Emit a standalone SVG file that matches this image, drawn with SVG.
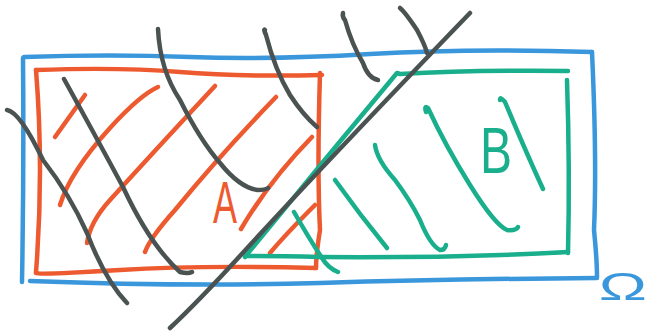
<svg xmlns="http://www.w3.org/2000/svg" width="649" height="333" viewBox="0 0 649 333">
<style>
.s{fill:none;stroke-width:4.5;stroke-linecap:round;stroke-linejoin:round}
.b{stroke:#3a97dc}.o{stroke:#ee5a2f}.g{stroke:#1aaf8c}.k{stroke:#4b5352}
.t{font-family:"Liberation Sans",sans-serif;font-weight:normal;text-anchor:middle}
</style>
<rect width="649" height="333" fill="#fff"/>
<g id="omega">
<path class="s b" d="M23,58 Q24,170 22,282"/>
<path class="s b" d="M24,57 Q110,54 190,57 T370,54 T592,52"/>
<path class="s b" d="M592,52 Q597,160 594,230 Q597,260 597,277"/>
<path class="s b" d="M597,278 Q450,279 320,283 T30,281"/>
<text class="t" transform="translate(623,300) scale(1.7,1)" font-size="38" fill="#3a97dc">Ω</text>
</g>
<g id="setA">
<path class="s o" d="M36,70 Q120,67 180,72 T322,75"/>
<path class="s o" d="M320,73 Q317,170 320,230 Q316,255 316,268"/>
<path class="s o" d="M316,268 Q200,265 120,270 T36,273"/>
<path class="s o" d="M36,272 Q44,170 36,70"/>
<path class="s o" d="M85,95 L55,137"/>
<path class="s o" d="M158,87 Q140,95 110,128 Q70,172 60,205"/>
<path class="s o" d="M215,86 Q160,145 110,200 Q90,222 87,243"/>
<path class="s o" d="M276,97 Q220,155 175,210 Q150,238 145,252"/>
<path class="s o" d="M312,137 Q270,180 241,229"/>
<path class="s o" d="M315,205 Q285,235 270,253"/>
<text class="t" transform="translate(225,223) scale(0.6,1)" font-size="60" fill="#ee5a2f">A</text>
</g>
<g id="setB">
<path class="s g" d="M245,257 Q320,165 397,73 L400,74 Q470,70 568,71"/>
<path class="s g" d="M567,80 Q570,170 568,253"/>
<path class="s g" d="M568,252 Q460,258 320,257 Q280,256 246,256"/>
<path class="s g" d="M294,212 Q310,240 322,258 Q328,268 338,272"/>
<path class="s g" d="M335,180 Q360,215 387,248"/>
<path class="s g" d="M375,145 Q377,160 395,180 Q410,200 420,220 Q430,245 440,250 Q445,250 446,245"/>
<path class="s g" d="M426,112 Q424,105 428,108 Q445,145 470,185 Q495,225 507,230 Q516,231 518,227"/>
<path class="s g" d="M500,100 Q500,96 505,102 Q525,150 543,189"/>
<text class="t" transform="translate(496,173) scale(0.75,1)" font-size="64" fill="#1aaf8c">B</text>
</g>
<g id="hatching">
<path class="s k" d="M7,110 Q20,112 43,160 Q70,195 87,233 Q105,280 127,303"/>
<path class="s k" d="M64,79 Q95,135 123,187 Q150,245 180,272 Q188,274 192,272"/>
<path class="s k" d="M158,29 Q160,70 180,100 Q200,140 220,163 Q240,188 258,190 Q265,190 268,188"/>
<path class="s k" d="M265,30 Q263,28 266,35 Q275,70 290,95 Q303,115 317,127"/>
<path class="s k" d="M343,13 Q342,17 345,20 Q352,45 363,63 Q368,78 378,80"/>
<path class="s k" d="M400,8 Q405,12 417,30 Q425,45 427,53"/>
<path class="s k" d="M470,13 Q330,158 250,245 Q200,300 170,328"/>
</g>
</svg>
